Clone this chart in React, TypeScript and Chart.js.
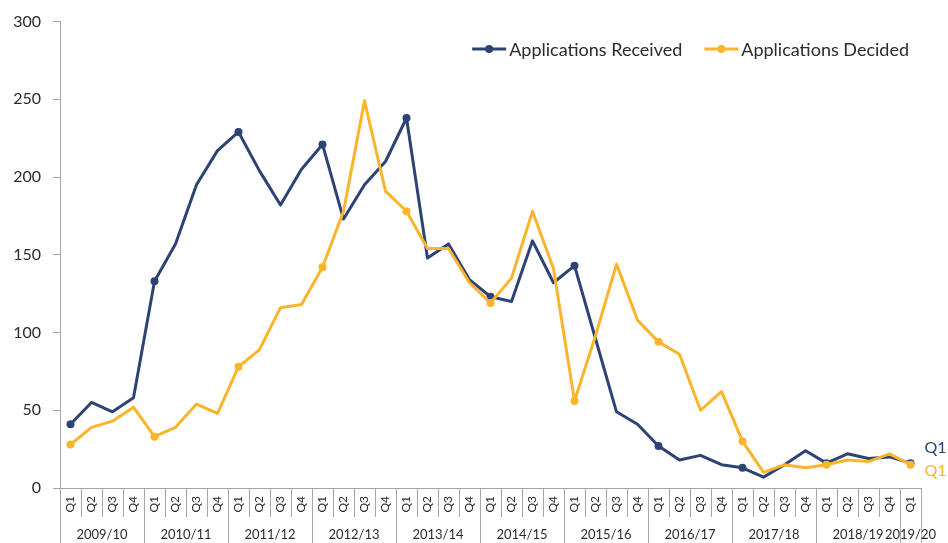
import { useEffect, useRef } from 'react';
import { Chart, registerables } from 'chart.js';

Chart.register(...registerables);

const YEARS = ['2009/10', '2010/11', '2011/12', '2012/13', '2013/14', '2014/15', '2015/16', '2016/17', '2017/18', '2018/19', '2019/20'];
const QUARTERS_PER_YEAR = [4, 4, 4, 4, 4, 4, 4, 4, 4, 4, 1];
const QUARTER_NAMES = ['Q1', 'Q2', 'Q3', 'Q4'];

const SERIES_NAMES = ['Applications Received', 'Applications Decided'];

const RECEIVED = [
  41, 55, 49, 58,
  133, 157, 195, 217,
  229, 204, 182, 205,
  221, 173, 195, 210,
  238, 148, 157, 134,
  123, 120, 159, 132,
  143, 96, 49, 41,
  27, 18, 21, 15,
  13, 7, 15, 24,
  16, 22, 19, 20,
  16,
];

const DECIDED = [
  28, 39, 43, 52,
  33, 39, 54, 48,
  78, 89, 116, 118,
  142, 178, 249, 191,
  178, 154, 154, 132,
  119, 135, 178, 141,
  56, 98, 144, 108,
  94, 86, 50, 62,
  30, 10, 15, 13,
  15, 18, 17, 22,
  15,
];

const Y_MIN = 0;
const Y_MAX = 300;
const Y_STEP = 50;

const NAVY = '#2E4374';
const GOLD = '#FBB52C';
const AXIS_GRAY = '#A6A6A6';
const TEXT = '#2b2b2b';
const FONT = 'Lato, "Open Sans", sans-serif';

const QUARTER_LABELS: string[] = [];
YEARS.forEach((_, yi) => {
  for (let q = 0; q < QUARTERS_PER_YEAR[yi]; q++) QUARTER_LABELS.push(QUARTER_NAMES[q]);
});

const decorPlugin = {
  id: 'decor',
  afterDraw(chart: any) {
    const { ctx, chartArea, scales } = chart;
    const x = scales.x;
    const n = QUARTER_LABELS.length;
    const step = x.getPixelForValue(1) - x.getPixelForValue(0);
    const bottom = chartArea.bottom;
    ctx.save();
    // category dividers
    const yearBounds = new Set<number>();
    let acc = 0;
    yearBounds.add(0);
    QUARTERS_PER_YEAR.forEach((c) => { acc += c; yearBounds.add(acc); });
    ctx.strokeStyle = AXIS_GRAY;
    ctx.lineWidth = 1;
    for (let i = 0; i <= n; i++) {
      const px = Math.round(x.getPixelForValue(i) - step / 2) + 0.5;
      ctx.beginPath();
      ctx.moveTo(px, bottom);
      ctx.lineTo(px, yearBounds.has(i) ? chart.height : bottom + 29);
      ctx.stroke();
    }
    // year labels
    ctx.fillStyle = TEXT;
    ctx.font = `13px ${FONT}`;
    ctx.textAlign = 'center';
    ctx.textBaseline = 'middle';
    let start = 0;
    YEARS.forEach((yr, yi) => {
      const cnt = QUARTERS_PER_YEAR[yi];
      const x0 = x.getPixelForValue(start) - step / 2;
      const x1 = x.getPixelForValue(start + cnt - 1) + step / 2;
      ctx.fillText(yr, (x0 + x1) / 2, bottom + 47);
      start += cnt;
    });
    // end labels
    const last = n - 1;
    const metas = [chart.getDatasetMeta(0), chart.getDatasetMeta(1)];
    const offsets = [-15, 6];
    const colors = [NAVY, GOLD];
    ctx.font = `16px ${FONT}`;
    ctx.textAlign = 'left';
    metas.forEach((m: any, i: number) => {
      const pt = m.data[last];
      ctx.fillStyle = colors[i];
      ctx.fillText(QUARTER_LABELS[last], pt.x + 14, pt.y + offsets[i]);
    });
    // legend
    ctx.font = `18px ${FONT}`;
    ctx.textBaseline = 'middle';
    const ly = 49;
    let right = chartArea.right - 12;
    const items = [
      { name: SERIES_NAMES[1], color: GOLD },
      { name: SERIES_NAMES[0], color: NAVY },
    ];
    items.forEach((it) => {
      const tw = ctx.measureText(it.name).width;
      const tx = right - tw;
      const lx1 = tx - 3;
      const lx0 = lx1 - 34;
      ctx.strokeStyle = it.color;
      ctx.lineWidth = 3;
      ctx.beginPath();
      ctx.moveTo(lx0, ly);
      ctx.lineTo(lx1, ly);
      ctx.stroke();
      ctx.fillStyle = it.color;
      ctx.beginPath();
      ctx.arc((lx0 + lx1) / 2, ly, 4, 0, Math.PI * 2);
      ctx.fill();
      ctx.fillStyle = TEXT;
      ctx.textAlign = 'left';
      ctx.fillText(it.name, tx, ly + 1);
      right = lx0 - 22;
    });
    ctx.restore();
  },
};

export default function App() {
  const ref = useRef<HTMLCanvasElement | null>(null);
  useEffect(() => {
    document.body.style.margin = '0';
    const canvas = ref.current;
    if (!canvas) return;
    const radius = (c: any) => (QUARTER_LABELS[c.dataIndex] === 'Q1' ? 4 : 0);
    const chart = new Chart(canvas, {
      type: 'line',
      data: {
        labels: QUARTER_LABELS,
        datasets: [
          {
            label: SERIES_NAMES[0],
            data: RECEIVED,
            borderColor: NAVY,
            backgroundColor: NAVY,
            borderWidth: 3,
            pointRadius: radius,
            pointHoverRadius: radius,
            pointBorderWidth: 0,
            tension: 0,
            borderJoinStyle: 'round',
            order: 2,
          },
          {
            label: SERIES_NAMES[1],
            data: DECIDED,
            borderColor: GOLD,
            backgroundColor: GOLD,
            borderWidth: 3,
            pointRadius: radius,
            pointHoverRadius: radius,
            pointBorderWidth: 0,
            tension: 0,
            borderJoinStyle: 'round',
            order: 1,
          },
        ],
      },
      options: {
        responsive: false,
        animation: false,
        devicePixelRatio: 1,
        layout: { padding: { top: 21, right: 27, bottom: 0, left: 0 } },
        plugins: { legend: { display: false }, tooltip: { enabled: false } },
        scales: {
          x: {
            type: 'category',
            offset: true,
            grid: { display: true, drawOnChartArea: false, drawTicks: false },
            border: { display: true, color: AXIS_GRAY, width: 1 },
            ticks: {
              autoSkip: false,
              minRotation: 90,
              maxRotation: 90,
              padding: 8,
              color: TEXT,
              font: { size: 12, family: FONT },
            },
            afterFit: (s: any) => { s.height = 55; },
          },
          y: {
            min: Y_MIN,
            max: Y_MAX,
            ticks: {
              stepSize: Y_STEP,
              padding: 12,
              color: TEXT,
              font: { size: 16, family: FONT },
            },
            grid: { drawOnChartArea: false, drawTicks: true, tickLength: 7, color: AXIS_GRAY },
            border: { display: true, color: AXIS_GRAY, width: 1 },
            afterFit: (s: any) => { s.width = 60; },
          },
        },
      },
      plugins: [decorPlugin],
    } as any);
    return () => chart.destroy();
  }, []);
  return <canvas ref={ref} width={948} height={543} style={{ display: 'block' }} />;
}
